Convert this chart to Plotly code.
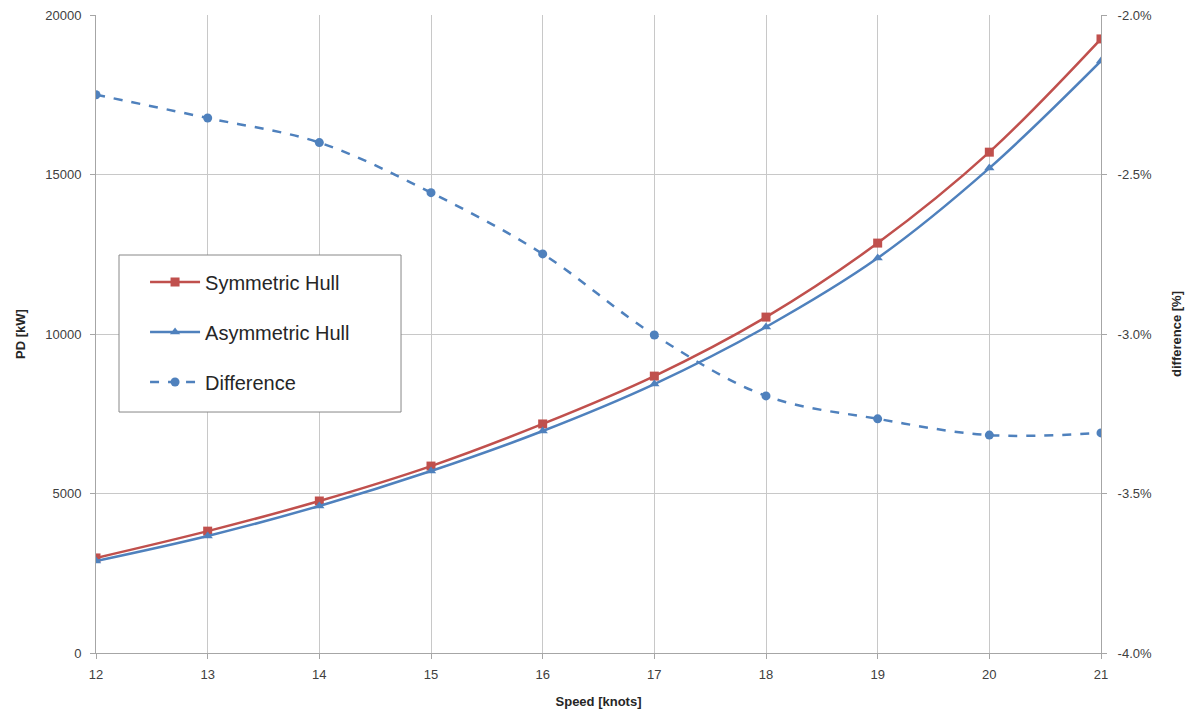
import plotly.graph_objects as go

speed = [12, 13, 14, 15, 16, 17, 18, 19, 20, 21]
symmetric = [2980, 3820, 4765, 5860, 7180, 8680, 10530, 12850, 15700, 19250]
asymmetric = [2885, 3670, 4610, 5705, 6960, 8430, 10220, 12380, 15200, 18560]
difference = [-2.25, -2.323, -2.40, -2.557, -2.749, -3.003, -3.194, -3.266, -3.317, -3.31]
left_ticks = [0, 5000, 10000, 15000, 20000]
right_ticks = [-4.0, -3.5, -3.0, -2.5, -2.0]
right_labels = ["-4.0%", "-3.5%", "-3.0%", "-2.5%", "-2.0%"]

red = "#C0504D"
blue = "#4F81BD"
font = "Liberation Sans"

fig = go.Figure()
fig.add_trace(go.Scatter(x=speed, y=symmetric, name="Symmetric Hull", mode="lines+markers",
                         line=dict(color=red, width=2.5, shape="spline"),
                         marker=dict(symbol="square", size=9, color=red),
                         legendgroup="a"))
fig.add_trace(go.Scatter(x=speed, y=asymmetric, name="Asymmetric Hull", mode="lines+markers",
                         line=dict(color=blue, width=2.5, shape="spline"),
                         marker=dict(symbol="triangle-up", size=9, color=blue),
                         legendgroup="b"))
fig.add_trace(go.Scatter(x=speed, y=difference, name="Difference", mode="lines+markers",
                         line=dict(color=blue, width=2.5, dash="dash", shape="spline"),
                         marker=dict(symbol="circle", size=9, color=blue),
                         yaxis="y2", legendgroup="c"))

fig.add_shape(type="rect", xref="paper", yref="paper", x0=0.0229, x1=0.3035, y0=0.3777, y1=0.6238,
              line=dict(color="#888888", width=1), fillcolor="white", layer="above")

fig.update_layout(
    width=1191, height=715,
    margin=dict(l=96, r=90, t=15, b=62, autoexpand=False),
    paper_bgcolor="white", plot_bgcolor="white",
    font=dict(family=font, color="#404040", size=13),
    showlegend=True,
    legend=dict(x=0.0488, y=0.612, xanchor="left", yanchor="top",
                borderwidth=0, bgcolor="rgba(0,0,0,0)",
                font=dict(size=20, color="#262626"), traceorder="grouped",
                tracegroupgap=21, itemwidth=50),
    xaxis=dict(range=[12, 21], dtick=1, showgrid=True, gridcolor="#C8C8C8",
               showline=True, linecolor="#A6A6A6", ticks="outside", ticklen=5,
               tickcolor="#A6A6A6", zeroline=False, ticklabelstandoff=4, automargin=False,
               title=dict(text="<b>Speed [knots]</b>", font=dict(size=13, color="#262626"), standoff=16)),
    yaxis=dict(range=[0, 20000], tickvals=left_ticks, tickformat="d", showgrid=True, gridcolor="#C8C8C8",
               showline=True, linecolor="#A6A6A6", ticks="outside", ticklen=5,
               tickcolor="#A6A6A6", zeroline=False, ticklabelstandoff=6, automargin=False,
               title=dict(text="<b>PD [kW]</b>", font=dict(size=13, color="#262626"), standoff=16)),
    yaxis2=dict(range=[-4.0, -2.0], tickvals=right_ticks, ticktext=right_labels, overlaying="y", side="right",
                showgrid=False, showline=True, linecolor="#A6A6A6", ticks="outside",
                ticklen=5, tickcolor="#A6A6A6", zeroline=False, ticklabelstandoff=8, automargin=False,
                title=dict(text="<b>difference [%]</b>", font=dict(size=13, color="#262626"), standoff=20)),
)

fig.write_html("out.html")
